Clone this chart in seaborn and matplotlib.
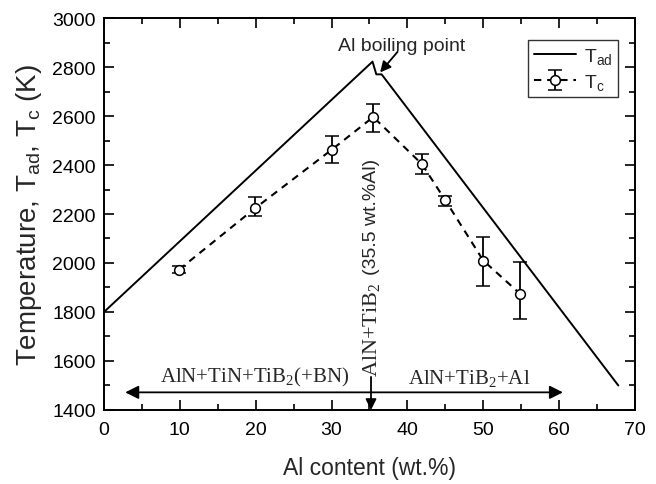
import matplotlib
matplotlib.use("Agg")
import matplotlib.pyplot as plt
import seaborn as sns
import numpy as np
import pandas as pd

# ---- data ----
ad_x = [0, 35.4, 35.9, 36.6, 67.8]
ad_T = [1800, 2822, 2770, 2770, 1500]

c_x = [9.9, 19.9, 30.0, 35.5, 41.9, 45.0, 50.0, 54.9]
c_T = [1973, 2223, 2462, 2596, 2404, 2256, 2010, 1873]
c_lo = [1958, 2193, 2410, 2536, 2363, 2234, 1905, 1771]
c_hi = [1988, 2270, 2520, 2649, 2445, 2275, 2105, 2003]

xticks = [0, 10, 20, 30, 40, 50, 60, 70]
yticks = [1400, 1600, 1800, 2000, 2200, 2400, 2600, 2800, 3000]

sns.set_style("ticks")
plt.rcParams["font.family"] = ["Liberation Sans", "DejaVu Sans"]
plt.rcParams["mathtext.fontset"] = "custom"
plt.rcParams["mathtext.rm"] = "Liberation Sans"

fig = plt.figure(figsize=(6.56, 4.85), dpi=100)
ax = fig.add_axes([0.1585, 0.1526, 0.8095, 0.8082])

df_ad = pd.DataFrame({"x": ad_x, "T": ad_T})
sns.lineplot(data=df_ad, x="x", y="T", sort=False, color="black", lw=1.4,
             ax=ax, label=r"T$\mathregular{_{ad}}$")

yerr = [np.array(c_T) - np.array(c_lo), np.array(c_hi) - np.array(c_T)]
eb = ax.errorbar(c_x, c_T, yerr=yerr, fmt="o", color="black", mfc="white",
                 mec="black", ms=7, mew=1.1, capsize=5, elinewidth=1.3,
                 capthick=1.3, ls=(0, (3.5, 2.8)), lw=1.5,
                 label=r"T$\mathregular{_c}$")

ax.set_xlim(0, 70)
ax.set_ylim(1400, 3000)
ax.set_xticks(xticks)
ax.set_yticks(yticks)
ax.set_xticks(np.arange(5, 70, 10), minor=True)
ax.set_yticks(np.arange(1500, 3000, 200), minor=True)
ax.tick_params(which="both", direction="in", top=True, right=True,
               labelsize=14, width=1.2, colors="black")
ax.tick_params(which="major", length=7)
ax.tick_params(axis="x", which="major", pad=8)
ax.tick_params(axis="y", which="major", pad=6)
ax.tick_params(which="minor", length=4)
for s in ax.spines.values():
    s.set_linewidth(1.4)
    s.set_color("black")

ax.set_xlabel("Al content (wt.%)", fontsize=16.5, labelpad=13)
ax.set_ylabel(r"Temperature, T$\mathregular{_{ad}}$, T$\mathregular{_c}$ (K)",
              fontsize=20, labelpad=6)

leg = ax.legend(loc="upper right", bbox_to_anchor=(0.968, 0.944),
                fontsize=14, frameon=True, fancybox=False, edgecolor="black",
                handlelength=2.15, borderpad=0.3, labelspacing=0.3,
                handletextpad=0.4, borderaxespad=0.0)
leg.get_frame().set_linewidth(1.0)

# Al boiling point annotation
ax.text(39.2, 2886, "Al boiling point", ha="center", va="center", fontsize=14)
ax.annotate("", xy=(36.4, 2778), xytext=(38.7, 2862),
            arrowprops=dict(arrowstyle="-|>", color="black", lw=1.3,
                            mutation_scale=16, shrinkA=0, shrinkB=0))

serif = ["Liberation Serif", "DejaVu Serif"]
# vertical texts
ax.text(35.2, 1540, r"AlN+TiB$\mathregular{_2}$", rotation=90, ha="center",
        va="bottom", fontsize=16, family=serif)
ax.text(35.2, 1955, "(35.5 wt.%Al)", rotation=90, ha="center",
        va="bottom", fontsize=14)

# vertical arrow
ax.annotate("", xy=(35.2, 1400), xytext=(35.2, 1535),
            arrowprops=dict(arrowstyle="-|>", color="black", lw=1.3,
                            mutation_scale=16, shrinkA=0, shrinkB=0))
# horizontal arrows
ax.annotate("", xy=(2.8, 1472), xytext=(35.2, 1472),
            arrowprops=dict(arrowstyle="-|>", color="black", lw=1.3,
                            mutation_scale=20, shrinkA=0, shrinkB=0))
ax.annotate("", xy=(60.5, 1472), xytext=(35.2, 1472),
            arrowprops=dict(arrowstyle="-|>", color="black", lw=1.3,
                            mutation_scale=20, shrinkA=0, shrinkB=0))

ax.text(19.8, 1490, r"AlN+TiN+TiB$\mathregular{_2}$(+BN)", ha="center",
        va="bottom", fontsize=15, family=serif)
ax.text(48.2, 1490, r"AlN+TiB$\mathregular{_2}$+Al", ha="center",
        va="bottom", fontsize=15, family=serif)

fig.savefig("out.png", dpi=100)
